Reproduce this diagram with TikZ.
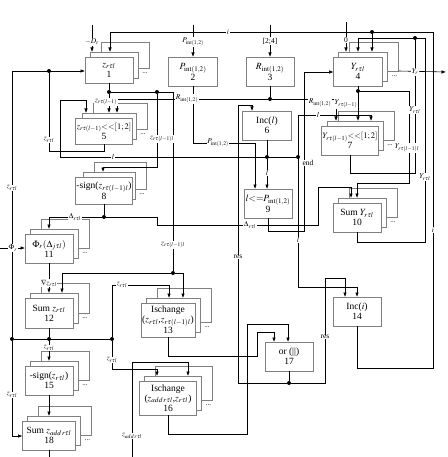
\documentclass[tikz,border=0pt]{standalone}
\usepackage{amsmath,amssymb}
\usepackage{mathptmx}
\usepackage{fontspec}
\setmainfont{Liberation Serif}
\usetikzlibrary{arrows.meta}

\tikzset{
    blk/.style={draw=gray, line width=0.9pt, fill=white, inner sep=1pt, outer sep=0pt,
      align=center, font=\fontsize{9.5}{10}\selectfont},
    shd/.style={draw=gray, line width=0.9pt, fill=white, inner sep=0pt, outer sep=0pt},
    wire/.style={line width=0.6pt},
    arr/.style={wire, -{Latex[length=4.5pt,width=3.5pt]}},
    lbl/.style={fill=white, inner sep=0.6pt, font=\fontsize{7.5}{7.5}\selectfont},
    jn/.style={circle, fill, inner sep=0pt, minimum size=4pt},
}

% a block with two copies behind it
\newcommand{\stackblk}[6]{%
    \node[shd, minimum width=#4pt, minimum height=#5pt] (#1bk) at ({#2+16},{#3-15}) {};
    \node[shd, minimum width=#4pt, minimum height=#5pt] (#1m) at ({#2+5},{#3-5}) {};
    \node[blk, minimum width=#4pt, minimum height=#5pt] (#1) at (#2,#3) {#6};
    \node[font=\scriptsize, inner sep=0pt] (#1dots) at ({#2+#4/2+12},{#3+#5/2-10}) {...};
}

\begin{document}
\begin{tikzpicture}[x=1pt,y=-1pt]
    \useasboundingbox (0,0) rectangle (447,457);

    % blocks
    \stackblk{b1}{109}{70}{48}{26}{$z_{r\tau l}$\\1}
    \node[blk, minimum width=49pt, minimum height=29pt] (b2) at (193,71.5) {$P_{\mathrm{int}(1,2)}$\\2};
    \node[blk, minimum width=48pt, minimum height=29pt] (b3) at (270,71.5) {$R_{\mathrm{int}(1,2)}$\\3};
    \stackblk{b4}{358}{71.5}{49}{29}{$Y_{r\tau l}$\\4}
    \stackblk{b5}{104}{131}{54}{26}{{\fontsize{8.5}{9}\selectfont$z_{r\tau(l-1)}{<}{<}[1;2]$}\\5}
    \node[blk, minimum width=49pt, minimum height=29pt] (b6) at (267,125.5) {Inc($l$)\\6};
    \stackblk{b7}{350}{140.5}{56}{29}{{\fontsize{8.5}{9}\selectfont$Y_{r\tau(l-1)}{<}{<}[1;2]$}\\7}
    \stackblk{b8}{104}{190.5}{52}{27}{-sign($z_{r\tau(l-1)l}$)\\8}
    \node[blk, minimum width=48pt, minimum height=29pt] (b9) at (268,203.5) {$l{<}{=}P_{\mathrm{int}(1,2)}$\\9};
    \stackblk{b10}{357}{217.5}{48}{29}{Sum $Y_{r\tau l}$\\10}
    \stackblk{b11}{49}{248.5}{48}{29}{$\Phi_r(\Delta_{j\tau l})$\\11}
    \stackblk{b12}{49}{313}{48}{30}{Sum $z_{r\tau l}$\\12}
    \stackblk{b13}{168}{320}{54}{34}{Ischange\\($z_{r\tau l}$,$z_{r\tau(l-1)l}$)\\13}
    \node[blk, minimum width=48pt, minimum height=29pt] (b14) at (357,311.5) {Inc($i$)\\14};
    \stackblk{b15}{49}{380.5}{48}{29}{-sign($z_{r\tau l}$)\\15}
    \stackblk{b16}{168}{398}{57}{34}{Ischange\\($z_{add\,r\tau l}$,$z_{r\tau l}$)\\16}
    \node[blk, minimum width=48pt, minimum height=29pt] (b17) at (289,356.5) {or (||)\\17};
    \stackblk{b18}{49}{435.5}{53}{29}{Sum $z_{add\,r\tau l}$\\18}

    % inputs at the top
    \coordinate (inD) at (92,25);
    \coordinate (inP) at (193,25);
    \coordinate (inR) at (270,25);
    \coordinate (in0) at (346,22);
    \draw[arr] (inD) -- (inD |- b1m.north);
    \draw[arr] (inP) -- (b2.north);
    \draw[arr] (inR) -- (b3.north);
    \draw[arr] (in0) -- (in0 |- b4m.north);

    % i loop
    \coordinate (iA) at (433,368);
    \coordinate (iB) at (110,32);
    \node[jn] (iC) at (372,32) {};
    \draw[arr] (b14.south) |- (iA) |- (iB) -- (iB |- b1m.north);
    \draw[arr] (iC) -- (iC |- b4m.north);

    % Y part
    \coordinate (yr) at (446,72);
    \draw[arr] (b4bk.south east) -- (yr);
    \node[jn] (y1) at (358,91) {};
    \draw[wire] (b4.south) -- (y1);
    \draw[arr] (y1) -- (y1 |- b7m.north);
    \coordinate (y2) at (409,183);
    \coordinate (y3) at (357,183);
    \draw[arr] (y1) -| (y2) -- (y3) -- (y3 |- b10m.north);
    \coordinate (y4) at (415,173);
    \node[jn] (y5) at (415,38) {};
    \draw[wire] (b7.south) |- (y4) -- (y5);
    \coordinate (y6) at (425,242);
    \coordinate (y7) at (425,38);
    \coordinate (y8) at (358,38);
    \draw[arr] (b10.south) |- (y6) -- (y7) -- (y8) -- (y8 |- b4m.north);

    % end
    \coordinate (e1) at (304,231);
    \coordinate (e2) at (304,72);
    \draw[arr] (b9.south) |- (e1) -- (e2) -- (e2 -| b4.west);

    % l
    \node[jn] (l1) at (267,157) {};
    \draw[wire] (b6.south) -- (l1);
    \draw[arr] (l1) -- (l1 |- b9.north);
    \coordinate (l2) at (60,157);
    \coordinate (l3) at (60,100);
    \coordinate (l4) at (86,100);
    \node[jn] (l5) at (298,157) {};
    \draw[arr] (l5) -- (l2) -- (l3) -- (l4) -- (l4 |- b5m.north);
    \coordinate (l6) at (298,115);
    \coordinate (l7) at (371,115);
    \coordinate (l8) at (298,287);
    \draw[arr] (l8) -- (l6) -- (l7) -- (l7 |- b7m.north);
    \draw[arr] (l8) -| (b14.north);

    % R
    \node[jn] (r1) at (270,99) {};
    \draw[wire] (b3.south) -- (r1);
    \coordinate (r2) at (117,99);
    \coordinate (r3) at (336,99);
    \draw[arr] (r1) -- (r2) -- (r2 |- b5m.north);
    \draw[arr] (r1) -- (r3) -- (r3 |- b7m.north);

    % P
    \coordinate (p2) at (255,143);
    \draw[arr] (b2.south) |- (p2) -- (p2 |- b9.north);

    % res
    \node[jn] (s1) at (289,383) {};
    \draw[wire] (b17.south) -- (s1);
    \coordinate (s2) at (238,383);
    \coordinate (s3) at (238,105);
    \coordinate (s4) at (252,105);
    \draw[arr] (s1) -- (s2) -- (s3) -- (s4) -- (s4 |- b6.north);
    \coordinate (s5) at (325,383);
    \coordinate (s6) at (325,278);
    \coordinate (s7) at (345,278);
    \draw[arr] (s1) -- (s5) -- (s6) -- (s7) -- (s7 |- b14.north);

    % z on the left
    \coordinate (z1) at (12,71);
    \node[jn] (z2) at (49,71) {};
    \node[jn] (z3) at (12,339) {};
    \coordinate (z4) at (12,436);
    \draw[arr] (z3) -- (z1) -- (z1 -| b1.west);
    \draw[arr] (z3) -- (z4) -- (z4 -| b18.west);
    \coordinate (z5) at (49,151);
    \draw[wire] (b5.south) |- (z5) -- (z2);
    \node[jn] (z6) at (109,92) {};
    \draw[wire] (b1.south) -- (z6);
    \draw[arr] (z6) -- (z6 |- b5m.north);
    \node[jn] (z7) at (157,92) {};
    \coordinate (z8) at (173,92);
    \node[jn] (z9) at (173,273) {};
    \draw[wire] (z6) -- (z8) -- (z9);
    \coordinate (z10) at (157,167);
    \coordinate (z11) at (103,167);
    \draw[arr] (z7) -- (z10) -- (z11) -- (z11 |- b8m.north);
    \coordinate (z12) at (62,273);
    \coordinate (z13) at (183,273);
    \draw[arr] (z9) -- (z12) -- (z12 |- b12m.north);
    \draw[arr] (z9) -- (z13) -- (z13 |- b13m.north);
    \node[jn] (z14) at (49,339) {};
    \draw[wire] (b12.south) -- (z14);
    \draw[arr] (z14) -- (z14 |- b15m.north);
    \node[jn] (z15) at (112,339) {};
    \draw[wire] (z3) -- (z15);
    \coordinate (z16) at (112,285);
    \coordinate (z17) at (169,285);
    \draw[arr] (z15) -- (z16) -- (z17) -- (z17 |- b13m.north);
    \coordinate (z18) at (112,369);
    \coordinate (z19) at (157,369);
    \draw[arr] (z15) -- (z18) -- (z19) -- (z19 |- b16m.north);
    \coordinate (a1) at (132,457);
    \coordinate (a2) at (132,362);
    \coordinate (a3) at (188,362);
    \draw[arr] (a1) -- (a2) -- (a3) -- (a3 |- b16m.north);

    % Delta
    \node[jn] (d1) at (104,217) {};
    \draw[wire] (b8.south) -- (d1);
    \coordinate (d2) at (49,217);
    \draw[arr] (d1) -- (d2) -- (d2 |- b11m.north);
    \coordinate (d3) at (157,217);
    \coordinate (d4) at (157,225);
    \coordinate (d5) at (318,225);
    \coordinate (d6) at (318,187);
    \coordinate (d7) at (351,187);
    \draw[arr] (d1) -- (d3) -- (d4) -- (d5) -- (d6) -- (d7) -- (d7 |- b10m.north);

    % lower chain
    \coordinate (f1) at (0,248);
    \draw[arr] (f1) -- (f1 -| b11.west);
    \draw[arr] (b11.south) -- (b11.south |- b12m.north);
    \draw[arr] (b15.south) -- (b15.south |- b18m.north);
    \coordinate (o18) at (49,457);
    \draw[wire] (b18.south) -- (o18);
    \coordinate (c2) at (257,356);
    \coordinate (c3) at (257,332);
    \coordinate (c4) at (274,332);
    \draw[arr] (b13.south) |- (c2) -- (c3) -- (c4) -- (c4 |- b17.north);
    \coordinate (c5) at (247,434);
    \coordinate (c6) at (247,324);
    \coordinate (c7) at (288,324);
    \draw[arr] (b16.south) |- (c5) -- (c6) -- (c7) -- (c7 |- b17.north);

    % labels
    \node[lbl] (tD) at (92,42) {$-D_r$};
    \node[lbl] (tP1) at (193,42) {$P_{\mathrm{int}(1,2)}$};
    \node[lbl] (t24) at (270,41) {[2;4]};
    \node[lbl] (t0) at (346,40) {0};
    \node[lbl] (ti1) at (228,32) {$i$};
    \node[lbl] (tYr) at (415,72) {$Y_r$};
    \node[lbl] (tz1) at (106,102) {$z_{r\tau(l-1)}$};
    \node[lbl] (tR1) at (187,99) {$R_{\mathrm{int}(1,2)}$};
    \node[lbl] (tR2) at (320,103) {$R_{\mathrm{int}(1,2)}$};
    \node[lbl] (tY1) at (346,104) {$Y_{r\tau(l-1)}$};
    \node[lbl] (tl1) at (318,115) {$l$};
    \node[lbl] (tY2) at (415,110) {$Y_{r\tau l}$};
    \node[lbl] (tz2) at (162,139) {$z_{r\tau(l-1)l}$};
    \node[lbl] (tY3) at (407,148) {$Y_{r\tau(l-1)l}$};
    \node[lbl] (tz3) at (49,140) {$z_{r\tau l}$};
    \node[lbl] (tP2) at (218,143) {$P_{\mathrm{int}(1,2)}$};
    \node[lbl] (tl2) at (113,157) {$l$};
    \node[lbl] (tend) at (308,163) {end};
    \node[lbl] (tl3) at (267,173) {$l$};
    \node[lbl] (tY4) at (425,177) {$Y_{r\tau l}$};
    \node[lbl] (tz4) at (12,188) {$z_{r\tau l}$};
    \node[lbl] (tD1) at (75,217) {$\Delta_{r\tau l}$};
    \node[lbl] (tD2) at (250,225) {$\Delta_{r\tau l}$};
    \node[lbl] (ti2) at (433,230) {$i$};
    \node[lbl] (tl4) at (298,240) {$l$};
    \node[lbl] (tz5) at (173,245) {$z_{r\tau(l-1)l}$};
    \node[lbl] (tF) at (13,248) {$\Phi_r$};
    \node[lbl] (tres1) at (238,257) {res};
    \node[lbl] (tn) at (49,283) {$\nabla z_{r\tau l}$};
    \node[lbl] (tz6) at (122,285) {$z_{r\tau l}$};
    \node[lbl] (tres2) at (325,337) {res};
    \node[lbl] (tz7) at (49,348) {$z_{r\tau l}$};
    \node[lbl] (tz8) at (112,360) {$z_{r\tau l}$};
    \node[lbl] (tz9) at (12,395) {$z_{r\tau l}$};
    \node[lbl] (ta) at (132,436) {$z_{add\,r\tau l}$};
\end{tikzpicture}
\end{document}
